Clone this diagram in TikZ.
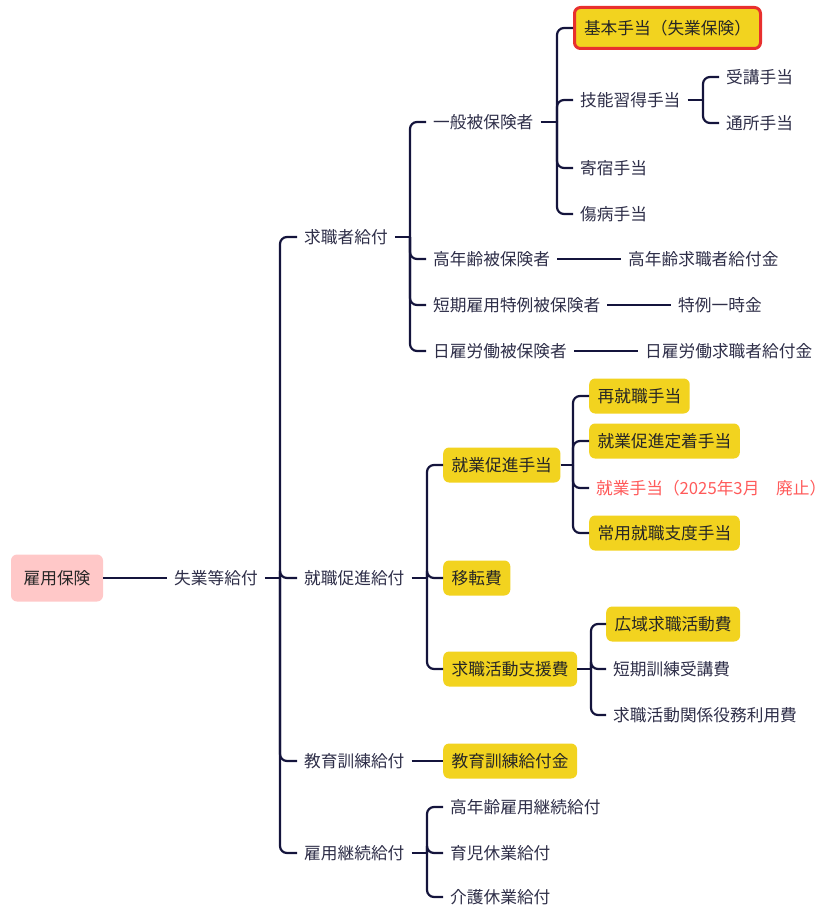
\documentclass[tikz,border=0pt]{standalone}
\usepackage{fontspec}
\setmainfont{Noto Sans CJK JP}
\definecolor{ln}{HTML}{14143C}
\definecolor{tx}{HTML}{2E2E48}
\definecolor{yl}{HTML}{F2D31F}
\definecolor{rd}{HTML}{E8302E}
\definecolor{pk}{HTML}{FFC8C8}
\definecolor{rt}{HTML}{FF5A5A}
\tikzset{
  fnt/.style={font=\fontsize{16.7}{19}\selectfont},
  plain/.style={fnt, anchor=west, inner xsep=7pt, inner ysep=2pt, text=tx},
  ybox/.style={fnt, anchor=west, fill=yl, rounded corners=6pt, inner xsep=8.5pt, minimum height=35pt, text=black!85},
  redtext/.style={fnt, anchor=west, inner xsep=7pt, inner ysep=2pt, text=rt},
  rootbox/.style={fnt, fill=pk, rounded corners=6pt, inner xsep=12pt, minimum height=47pt, minimum width=92pt, text=black!85},
  hibox/.style={ybox, draw=rd, line width=3pt, minimum height=41pt, inner xsep=9.5pt},
  conn/.style={draw=ln, line width=2.2pt},
  br/.style={conn, rounded corners=7pt},
}
\begin{document}
\begin{tikzpicture}[x=1pt,y=-1pt]
\useasboundingbox (0,0) rectangle (833,917);
% nodes
\node[rootbox] (root) at (57,578) {雇用保険};
\node[plain] (ss) at (167,578) {失業等給付};
\node[plain] (kyu) at (297,237) {求職者給付};
\node[plain] (shu) at (297,578) {就職促進給付};
\node[plain] (kyo) at (297,761) {教育訓練給付};
\node[plain] (koy) at (297,853) {雇用継続給付};
\node[plain] (ippan) at (426,122) {一般被保険者};
\node[plain] (kounen) at (426,259) {高年齢被保険者};
\node[plain] (tanki) at (426,305) {短期雇用特例被保険者};
\node[plain] (hiyatoi) at (426,351) {日雇労働被保険者};
\node[hibox] (kihon) at (573,28) {基本手当（失業保険）};
\node[plain] (ginou) at (573,100) {技能習得手当};
\node[plain] (kishuku) at (573,168) {寄宿手当};
\node[plain] (shoubyou) at (573,214) {傷病手当};
\node[plain] (jukou) at (719,77) {受講手当};
\node[plain] (tsusho) at (719,123) {通所手当};
\node[plain] (kounenkyu) at (621,259) {高年齢求職者給付金};
\node[plain] (tokurei) at (671,305) {特例一時金};
\node[plain] (hiyakyu) at (638,351) {日雇労働求職者給付金};
\node[ybox] (sokushin) at (443,465) {就業促進手当};
\node[ybox] (iten) at (443,578) {移転費};
\node[ybox] (shien) at (443,669) {求職活動支援費};
\node[ybox] (saishu) at (589,396) {再就職手当};
\node[ybox] (teichaku) at (589,441) {就業促進定着手当};
\node[redtext] (shugyou) at (589,488) {就業手当（2025年3月　廃止）};
\node[ybox] (jouyou) at (589,533) {常用就職支度手当};
\node[ybox] (kouiki) at (606,624) {広域求職活動費};
\node[plain] (tankikun) at (606,669) {短期訓練受講費};
\node[plain] (kankei) at (606,715) {求職活動関係役務利用費};
\node[ybox] (kyokin) at (443,761) {教育訓練給付金};
\node[plain] (kounenkoyou) at (443,807) {高年齢雇用継続給付};
\node[plain] (ikuji) at (443,853) {育児休業給付};
\node[plain] (kaigo) at (443,897) {介護休業給付};
% bracket points
\coordinate (bss) at (280,578);
\coordinate (bkyu) at (410,237);
\coordinate (bippan) at (557,122);
\coordinate (bginou) at (703,100);
\coordinate (bshu) at (427,578);
\coordinate (bsok) at (573,465);
\coordinate (bshien) at (591,669);
\coordinate (bkoy) at (427,853);
% direct connectors
\draw[conn] (root.east) -- (ss.west);
\draw[conn] (kounen.east) -- (kounenkyu.west);
\draw[conn] (tanki.east) -- (tokurei.west);
\draw[conn] (hiyatoi.east) -- (hiyakyu.west);
\draw[conn] (kyo.east) -- (kyokin.west);
% brackets
\draw[conn] (ss.east) -- (bss);
\foreach \c in {kyu,shu,kyo,koy} \draw[br] (bss) |- (\c.west);
\draw[conn] (kyu.east) -- (bkyu);
\foreach \c in {ippan,kounen,tanki,hiyatoi} \draw[br] (bkyu) |- (\c.west);
\draw[conn] (ippan.east) -- (bippan);
\foreach \c in {kihon,ginou,kishuku,shoubyou} \draw[br] (bippan) |- (\c.west);
\draw[conn] (ginou.east) -- (bginou);
\foreach \c in {jukou,tsusho} \draw[br] (bginou) |- (\c.west);
\draw[conn] (shu.east) -- (bshu);
\foreach \c in {sokushin,iten,shien} \draw[br] (bshu) |- (\c.west);
\draw[conn] (sokushin.east) -- (bsok);
\foreach \c in {saishu,teichaku,shugyou,jouyou} \draw[br] (bsok) |- (\c.west);
\draw[conn] (shien.east) -- (bshien);
\foreach \c in {kouiki,tankikun,kankei} \draw[br] (bshien) |- (\c.west);
\draw[conn] (koy.east) -- (bkoy);
\foreach \c in {kounenkoyou,ikuji,kaigo} \draw[br] (bkoy) |- (\c.west);
\end{tikzpicture}
\end{document}
